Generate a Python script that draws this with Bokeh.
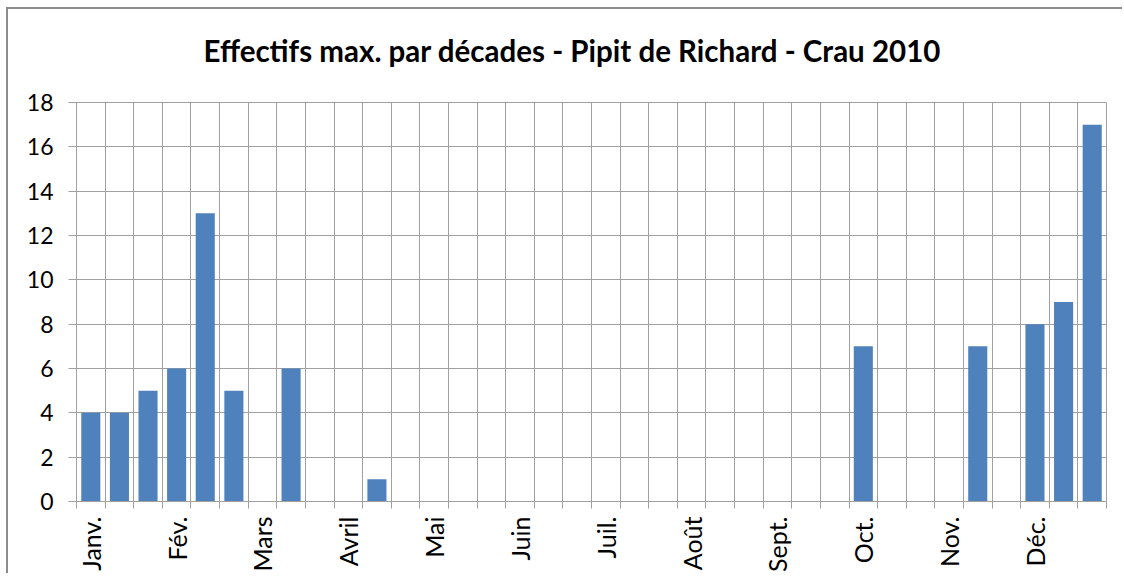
import math
from bokeh.plotting import figure
from bokeh.models import FixedTicker, Range1d, ColumnDataSource, Title
from bokeh.embed import file_html
from bokeh.resources import INLINE

title_text = "Effectifs max. par décades - Pipit de Richard - Crau 2010"
months = ["Janv.", "Fév.", "Mars", "Avril", "Mai", "Juin",
          "Juil.", "Août", "Sept.", "Oct.", "Nov.", "Déc."]
# maximum counts for the 36 decades (3 per month)
values = [4, 4, 5, 6, 13, 5, 0, 6, 0, 0, 1, 0,
          0, 0, 0, 0, 0, 0, 0, 0, 0, 0, 0, 0,
          0, 0, 0, 7, 0, 0, 0, 7, 0, 8, 9, 17]
y_ticks = [0, 2, 4, 6, 8, 10, 12, 14, 16, 18]

n = len(values)
src = ColumnDataSource(dict(x=[i + 0.5 for i in range(n)], top=values))

FONT = "Lato"
GRID = "#a0a0a0"

p = figure(width=1116, height=566, output_backend="svg", toolbar_location=None,
           x_range=Range1d(0, n), y_range=Range1d(0, 18),
           min_border_left=68, min_border_right=18, min_border_top=93,
           min_border_bottom=74)
p.styles = {"margin-left": "6px", "margin-top": "7px",
            "border-left": "2px solid #8c8c8c", "border-top": "2px solid #8c8c8c"}

p.title.text = title_text
p.title.align = "left"
p.title.offset = 127
p.title.standoff = 10
p.title.text_font = FONT
p.title.text_font_style = "bold"
p.title.text_font_size = "29.5px"
p.title.text_color = "#000000"

# empty spacer between the title and the plot area
p.add_layout(Title(text=" ", text_font_size="25px", standoff=0), "above")

p.vbar(x="x", top="top", width=0.667, source=src, fill_color="#4f81bd", line_color=None)

month_pos = [3 * i + 0.5 for i in range(len(months))]
p.xaxis.ticker = FixedTicker(ticks=month_pos, minor_ticks=list(range(n + 1)))
p.xaxis.major_label_overrides = {pos: m for pos, m in zip(month_pos, months)}
p.xaxis.major_label_orientation = math.pi / 2
p.xaxis.major_tick_out = 0
p.xaxis.major_tick_in = 0
p.xaxis.minor_tick_out = 7
p.xaxis.minor_tick_in = 0
p.xaxis.minor_tick_line_color = GRID
p.xaxis.major_label_standoff = 8
p.xaxis.major_label_text_font_size = "25px"

p.yaxis.ticker = FixedTicker(ticks=y_ticks)
p.yaxis.major_tick_out = 8
p.yaxis.major_tick_in = 0
p.yaxis.minor_tick_line_color = None
p.yaxis.major_label_standoff = 15
p.yaxis.major_label_text_font_size = "23px"

for ax in (p.xaxis, p.yaxis):
    ax.axis_line_color = GRID
    ax.major_tick_line_color = GRID
    ax.major_label_text_font = FONT
    ax.major_label_text_color = "#000000"

p.xgrid.ticker = FixedTicker(ticks=list(range(n + 1)))
p.ygrid.ticker = FixedTicker(ticks=y_ticks)
p.xgrid.grid_line_color = GRID
p.ygrid.grid_line_color = GRID
p.outline_line_color = GRID

open("out.html", "w").write(file_html(p, INLINE))
